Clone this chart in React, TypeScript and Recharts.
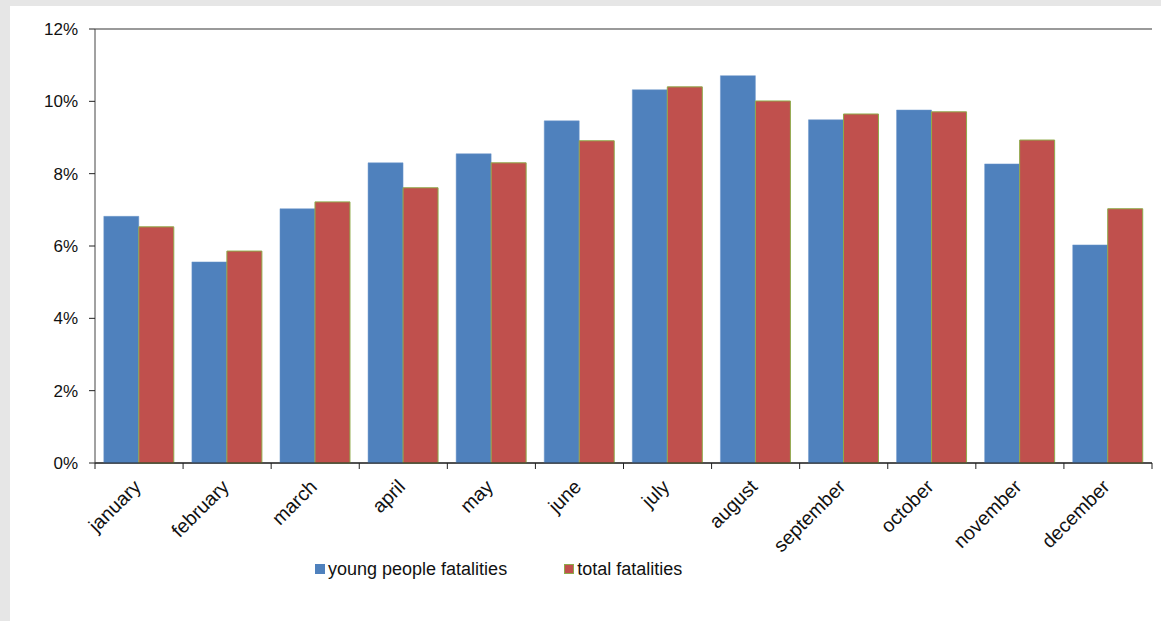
import React from "react";
import {
  BarChart,
  Bar,
  XAxis,
  YAxis,
  CartesianGrid,
  ReferenceLine,
  Legend,
} from "recharts";

const months = [
  "january",
  "february",
  "march",
  "april",
  "may",
  "june",
  "july",
  "august",
  "september",
  "october",
  "november",
  "december",
];
const youngPeople = [6.82, 5.56, 7.03, 8.3, 8.55, 9.46, 10.32, 10.71, 9.49, 9.76, 8.27, 6.03];
const totalFatalities = [6.53, 5.86, 7.22, 7.61, 8.3, 8.91, 10.4, 10.01, 9.65, 9.71, 8.93, 7.03];
const yTicks = [0, 2, 4, 6, 8, 10, 12];
const seriesNames = ["young people fatalities", "total fatalities"];

const data = months.map((m, i) => ({
  month: m,
  young: youngPeople[i],
  total: totalFatalities[i],
}));

const FONT = '"Liberation Sans", Arial, sans-serif';
const BLUE = "#4f81bd";
const RED = "#c0504d";
const GREEN_EDGE = "#8faa4a";

// Tick label plus boundary tick marks (category edges) like the original
const MonthTick = (props: any) => {
  const { x, y, payload, index, visibleTicksCount } = props;
  const half = payload && typeof payload.offset === "number" ? payload.offset : 0;
  const axisY = y - 6;
  const isLast = index === (visibleTicksCount ?? 12) - 1;
  return (
    <g>
      {half > 0 && (
        <line x1={x - half} x2={x - half} y1={axisY} y2={axisY + 6} stroke="#222" />
      )}
      {half > 0 && isLast && (
        <line x1={x + half} x2={x + half} y1={axisY} y2={axisY + 6} stroke="#222" />
      )}
      <g transform={`translate(${x + 3},${y + 19})`}>
        <text
          textAnchor="end"
          transform="rotate(-45)"
          fontSize={19.5}
          fill="#111"
          fontFamily={FONT}
        >
          {payload.value}
        </text>
      </g>
    </g>
  );
};

const renderLegend = (props: any) => {
  const payload = [...(props.payload || [])].sort(
    (a: any, b: any) => seriesNames.indexOf(a.value) - seriesNames.indexOf(b.value)
  );
  return (
    <div
      style={{
        display: "flex",
        alignItems: "center",
        fontFamily: FONT,
        fontSize: 18,
        lineHeight: "20px",
        color: "#111",
        whiteSpace: "nowrap",
      }}
    >
      {payload.map((p: any, i: number) => (
        <div
          key={i}
          style={{ display: "flex", alignItems: "center", marginLeft: i === 0 ? 0 : 57 }}
        >
          <span
            style={{
              display: "inline-block",
              width: 10,
              height: 10,
              background: p.color,
              boxSizing: "border-box",
              border: p.value === seriesNames[1] ? `1px solid ${GREEN_EDGE}` : "none",
            }}
          />
          <span style={{ marginLeft: 3 }}>{p.value}</span>
        </div>
      ))}
    </div>
  );
};

export default function App() {
  return (
    <div
      style={{
        position: "absolute",
        left: 0,
        top: 0,
        width: 1161,
        height: 621,
        background: "#e6e6e6",
        overflow: "hidden",
      }}
    >
      <div
        style={{
          position: "absolute",
          left: 10,
          top: 6,
          width: 1151,
          height: 615,
          background: "#ffffff",
        }}
      >
        <BarChart
          width={1151}
          height={615}
          data={data}
          margin={{ top: 23, right: 9, bottom: 58, left: 25 }}
          barCategoryGap="10%"
          barGap={0}
        >
          <CartesianGrid horizontal={true} vertical={false} stroke="#000" strokeOpacity={1} />
          <XAxis
            xAxisId="cat"
            dataKey="month"
            type="category"
            height={100}
            tickSize={6}
            tickMargin={0}
            axisLine={{ stroke: "#222" }}
            tickLine={false}
            interval={0}
            tick={<MonthTick />}
          />
          <YAxis
            yAxisId="left"
            domain={[0, 12]}
            ticks={yTicks}
            tickFormatter={(v: number) => `${v}%`}
            width={60}
            tickSize={6}
            tickMargin={11}
            axisLine={{ stroke: "#444" }}
            tickLine={{ stroke: "#222" }}
            tick={{ fontSize: 17, fill: "#111", fontFamily: FONT }}
            interval={0}
          />
          <YAxis
            yAxisId="right"
            orientation="right"
            domain={[0, 12]}
            width={0}
            tick={false}
            tickLine={false}
            axisLine={{ stroke: "#9a9a9a", strokeWidth: 2 }}
          />
          <ReferenceLine yAxisId="left" xAxisId="cat" y={12} stroke="#9a9a9a" strokeWidth={2} />
          <Legend
            layout="horizontal"
            verticalAlign="middle"
            align="center"
            content={renderLegend}
            wrapperStyle={{ top: 553, left: 305, width: 500 }}
          />
          <Bar
            xAxisId="cat"
            yAxisId="left"
            dataKey="young"
            name={seriesNames[0]}
            fill={BLUE}
            stroke="#6f99cc"
            strokeWidth={0.5}
            isAnimationActive={false}
          />
          <Bar
            xAxisId="cat"
            yAxisId="left"
            dataKey="total"
            name={seriesNames[1]}
            fill={RED}
            stroke={GREEN_EDGE}
            strokeWidth={1}
            isAnimationActive={false}
          />
        </BarChart>
      </div>
    </div>
  );
}
